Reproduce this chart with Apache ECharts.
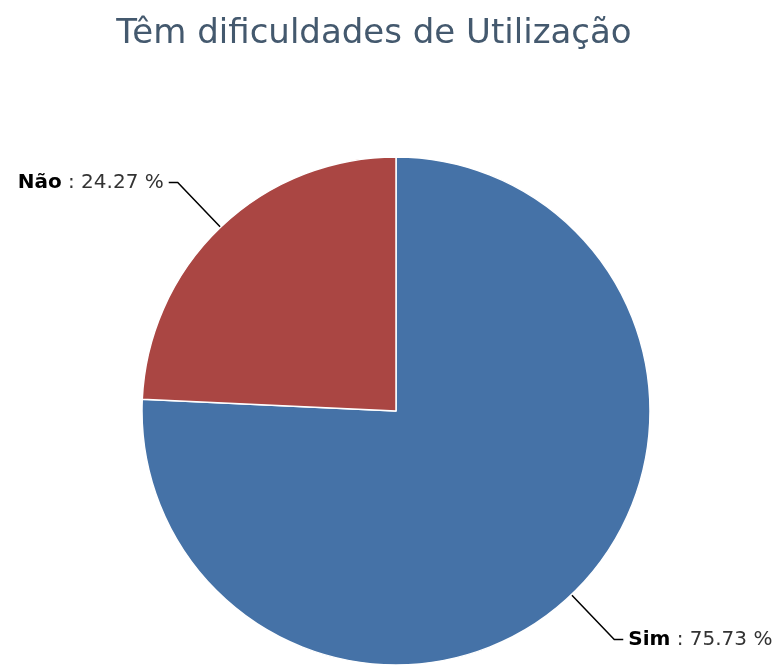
<!DOCTYPE html>
<html>
<head>
<meta charset="utf-8">
<script src="https://cdn.jsdelivr.net/npm/echarts@6/dist/echarts.min.js"></script>
<style>
html,body{margin:0;padding:0;background:#fff;}
#chart{width:778px;height:665px;}
</style>
</head>
<body>
<div id="chart"></div>
<script>
const titleText = "Têm dificuldades de Utilização";
const categories = ["Sim", "Não"];
const values = [75.73, 24.27];
const colors = ["#4572A7", "#AA4643"];

const chart = echarts.init(document.getElementById('chart'), null, {renderer: 'canvas'});
const option = {
  backgroundColor: '#ffffff',
  animation: false,
  title: {
    text: titleText,
    left: 369,
    textAlign: 'center',
    top: 12,
    textStyle: {
      fontFamily: 'DejaVu Sans',
      fontSize: 34,
      fontWeight: 'normal',
      color: '#44596E'
    }
  },
  series: [{
    type: 'pie',
    center: [396, 411],
    radius: [0, 254],
    startAngle: 90,
    clockwise: true,
    data: categories.map((c, i) => ({name: c, value: values[i], itemStyle: {color: colors[i]}})),
    itemStyle: {borderColor: '#ffffff', borderWidth: 1.5},
    label: {
      show: true,
      overflow: 'none',
      formatter: p => '{b|' + p.name + '}{c| : ' + p.value.toFixed(2) + ' %}',
      rich: {
        b: {fontFamily: 'DejaVu Sans', fontSize: 20, fontWeight: 'bold', color: '#000000'},
        c: {fontFamily: 'DejaVu Sans', fontSize: 20, color: '#333333'}
      }
    },
    labelLine: {
      show: true,
      length: 62,
      length2: 9,
      lineStyle: {color: '#000000', width: 1.5}
    }
  }]
};
chart.setOption(option);
</script>
</body>
</html>
